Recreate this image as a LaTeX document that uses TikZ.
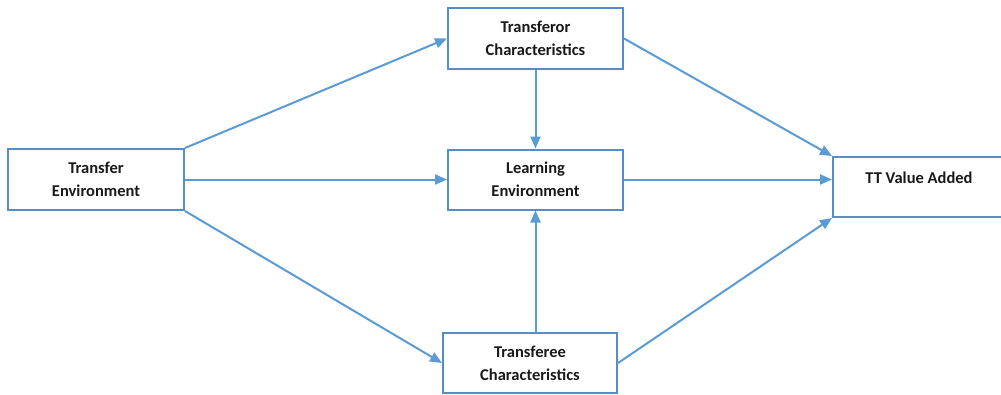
\documentclass[tikz,border=0pt]{standalone}
\usepackage{fontspec}
\setmainfont{Carlito}
\usetikzlibrary{arrows.meta,calc}
\definecolor{edgeblue}{RGB}{91,155,213}
\definecolor{boxblue}{RGB}{84,141,200}
\tikzset{
  box/.style={draw=boxblue, line width=2pt, rectangle, inner sep=0pt, align=center,
    font=\bfseries\fontsize{16.5}{23}\selectfont, text=black!90},
  conn/.style={draw=edgeblue, line width=2pt, -{Triangle[length=12pt,width=10pt]}},
  lbl/.style={inner sep=0pt, font=\bfseries\fontsize{16.5}{23}\selectfont, text=black!90}
}
\begin{document}
\begin{tikzpicture}[x=1pt,y=-1pt]
\useasboundingbox (0,0) rectangle (1001,394);
\clip (0,0) rectangle (1001,394);
\node[box, minimum width=176pt, minimum height=61pt] (te) at (96,179.5) {Transfer\\Environment};
\node[box, minimum width=175pt, minimum height=61pt] (tor) at (535.5,38.5) {Transferor\\Characteristics};
\node[box, minimum width=175pt, minimum height=60pt] (lrn) at (535.5,179.5) {Learning\\Environment};
\node[box, minimum width=174pt, minimum height=60pt] (tee) at (530,363) {Transferee\\Characteristics};
\node[box, minimum width=176pt, minimum height=60pt] (tt) at (921,187) {};
\node[lbl] (ttl) at (919,178) {TT Value Added};
\draw[conn] (te.north east) -- (tor.west);
\draw[conn] (te.east) -- (te.east -| lrn.west);
\draw[conn] (te.south east) -- (tee.west);
\draw[conn] (tor.south) -- (lrn.north);
\draw[conn] (lrn.south |- tee.north) -- (lrn.south);
\draw[conn] (tor.east) -- (tt.north west);
\draw[conn] (lrn.east) -- (lrn.east -| tt.west);
\draw[conn] (tee.east) -- (tt.south west);
\end{tikzpicture}
\end{document}
